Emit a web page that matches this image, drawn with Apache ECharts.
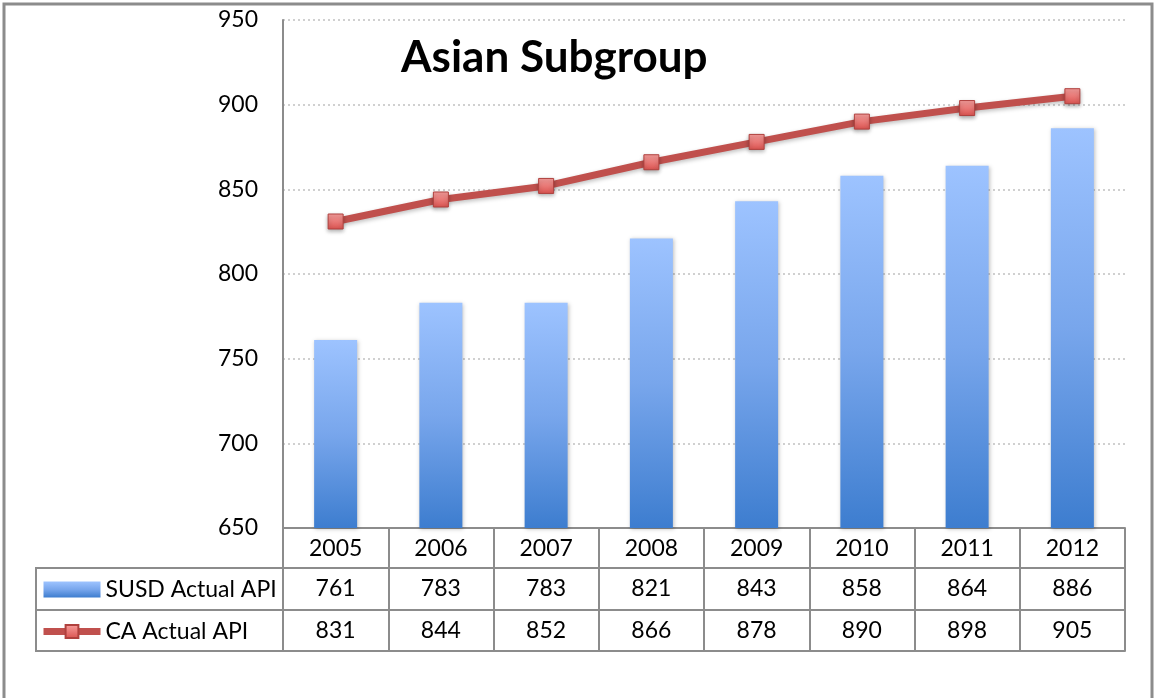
<!DOCTYPE html>
<html>
<head>
<meta charset="utf-8">
<script src="https://cdn.jsdelivr.net/npm/echarts@6/dist/echarts.min.js"></script>
<style>
  html, body { margin: 0; padding: 0; background: #fff; }
  #main { width: 1156px; height: 698px; }
</style>
</head>
<body>
<div id="main"></div>
<script>
// data
const years = ["2005", "2006", "2007", "2008", "2009", "2010", "2011", "2012"];
const susdApi = [761, 783, 783, 821, 843, 858, 864, 886];
const caApi = [831, 844, 852, 866, 878, 890, 898, 905];

const chart = echarts.init(document.getElementById("main"));
const gray = "#8c8c8c";
const font = "Lato";
const fs = 23;

// one row of the data table under the chart, drawn as an extra x axis
const tableRow = (offset, tickLen, formatter, showLabel) => ({
  type: "category",
  data: years,
  position: "bottom",
  offset: offset,
  axisLine: { show: true, lineStyle: { color: gray, width: 2 } },
  axisTick: { show: tickLen > 0, interval: 0, length: tickLen, lineStyle: { color: gray, width: 2 } },
  axisLabel: { show: showLabel, interval: 0, margin: 9, fontSize: fs, color: "#000", fontFamily: font, formatter: formatter },
  splitLine: { show: false },
});

const barColor = new echarts.graphic.LinearGradient(0, 0, 0, 1, [
  { offset: 0, color: "#9dc3ff" },
  { offset: 0.5, color: "#78a6ec" },
  { offset: 1, color: "#3d7dcf" },
]);
const markerColor = new echarts.graphic.LinearGradient(0, 0, 0, 1, [
  { offset: 0, color: "#f9a09e" },
  { offset: 1, color: "#d9524f" },
]);

const option = {
  animation: false,
  textStyle: { fontFamily: font },
  title: {
    text: "Asian Subgroup",
    left: 396,
    top: 31,
    textStyle: { fontSize: 44, fontWeight: "bold", color: "#000", fontFamily: font },
  },
  legend: {
    orient: "vertical",
    left: 40,
    top: 578,
    padding: 0,
    itemGap: 19,
    itemWidth: 57,
    itemHeight: 16,
    textStyle: { fontSize: fs, color: "#000", fontFamily: font },
    data: [
      { name: "SUSD Actual API", icon: "rect" },
      { name: "CA Actual API", lineStyle: { width: 7, color: "#c0504d" } },
    ],
  },
  grid: { left: 283, right: 31, top: 20, bottom: 170 },
  xAxis: [
    tableRow(0, 40, (v) => v, true),
    tableRow(40, 42, (v, i) => susdApi[i], true),
    tableRow(82, 41, (v, i) => caApi[i], true),
    tableRow(123, 0, () => "", false),
  ],
  yAxis: {
    type: "value",
    min: 650,
    max: 950,
    interval: 50,
    axisLine: { show: true, lineStyle: { color: gray, width: 2 } },
    axisTick: { show: false },
    axisLabel: { fontSize: fs, color: "#000", margin: 25, fontFamily: font },
    splitLine: { lineStyle: { color: "#d0d0d0", type: [2, 3], width: 2 } },
  },
  series: [
    {
      name: "SUSD Actual API",
      type: "bar",
      data: susdApi,
      barWidth: 43,
      itemStyle: {
        color: barColor,
        shadowColor: "rgba(0,0,0,0.25)",
        shadowBlur: 4,
        shadowOffsetX: 1,
        shadowOffsetY: 1,
      },
    },
    {
      name: "CA Actual API",
      type: "line",
      data: caApi,
      symbol: "rect",
      symbolSize: 15,
      lineStyle: { color: "#c0504d", width: 7, shadowColor: "rgba(0,0,0,0.25)", shadowBlur: 4, shadowOffsetY: 2 },
      itemStyle: {
        color: markerColor,
        borderColor: "#b0413e",
        borderWidth: 1,
        shadowColor: "rgba(0,0,0,0.3)",
        shadowBlur: 4,
        shadowOffsetY: 2,
      },
      z: 3,
    },
  ],
  graphic: [
    // outer frame
    { type: "rect", shape: { x: 4, y: 4, width: 1148, height: 720 }, style: { fill: "none", stroke: gray, lineWidth: 3 }, silent: true },
    // legend cells of the table
    { type: "rect", shape: { x: 36, y: 568, width: 247, height: 83 }, style: { fill: "none", stroke: gray, lineWidth: 2 }, silent: true },
    { type: "line", shape: { x1: 36, y1: 610, x2: 283, y2: 610 }, style: { stroke: gray, lineWidth: 2 }, silent: true },
  ],
};

chart.setOption(option);
</script>
</body>
</html>
